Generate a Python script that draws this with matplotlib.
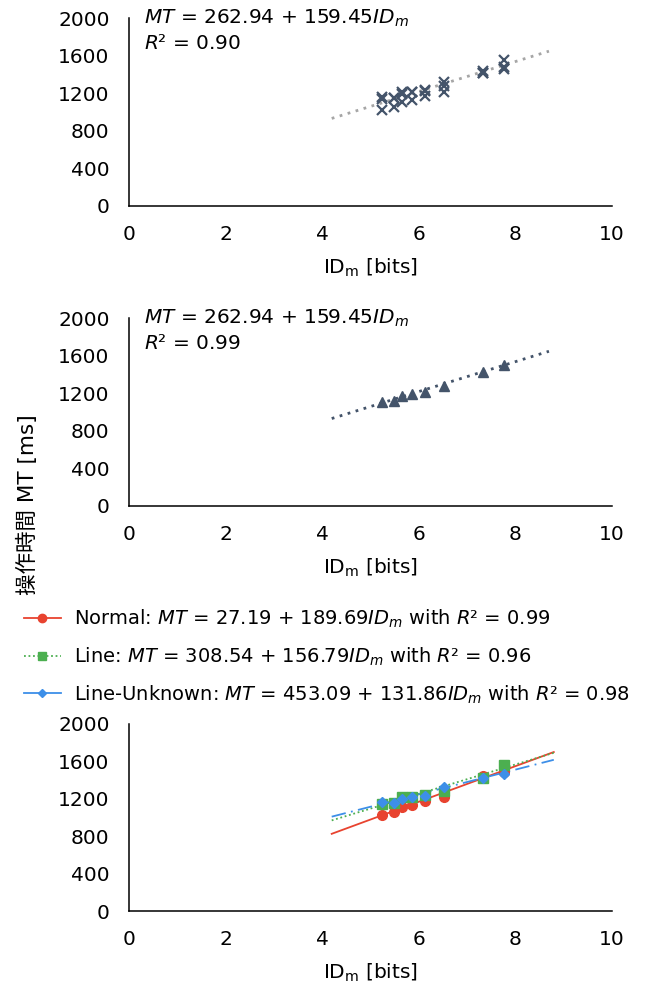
import matplotlib
matplotlib.use("Agg")
import matplotlib.pyplot as plt
from matplotlib.lines import Line2D
import numpy as np

plt.rcParams["font.family"] = ["DejaVu Sans", "Noto Sans CJK JP"]
plt.rcParams["mathtext.fontset"] = "dejavusans"

# index of difficulty per condition [bits]
id_m = [5.25, 5.48, 5.66, 5.87, 6.13, 6.53, 7.33, 7.76]

# movement time per condition [ms]
mt_normal = [1024, 1059, 1106, 1127, 1170, 1213, 1440, 1485]
mt_line = [1138, 1149, 1219, 1219, 1237, 1283, 1415, 1560]
mt_unknown = [1166, 1150, 1195, 1219, 1230, 1326, 1420, 1465]
mt_mean = [1105, 1120, 1175, 1195, 1215, 1280, 1425, 1505]

# regression coefficients (intercept, slope) as printed in the figure
fit_all = (262.94, 159.45)
fit_normal = (27.19, 189.69)
fit_line = (308.54, 156.79)
fit_unknown = (453.09, 131.86)
fit_range = (4.2, 8.7)
fit_range_cond = (4.2, 8.8)

yticks = [0, 400, 800, 1200, 1600, 2000]
xticks = [0, 2, 4, 6, 8, 10]

NAVY = "#44546a"
GREY = "#a6a6a6"
RED = "#e8432f"
GREEN = "#4caf50"
BLUE = "#3d8fe8"
FS = 14.5

fig = plt.figure(figsize=(6.48, 9.83), dpi=100)


def style_axes(ax):
    ax.set_xlim(0, 10)
    ax.set_ylim(0, 2000)
    ax.set_xticks(xticks)
    ax.set_yticks(yticks)
    ax.tick_params(length=0, labelsize=FS, pad=14)
    for s in ["top", "right"]:
        ax.spines[s].set_visible(False)
    for s in ["left", "bottom"]:
        ax.spines[s].set_linewidth(1.1)
    ax.set_xlabel(r"ID$_\mathrm{m}$ [bits]", fontsize=FS, labelpad=9)


def fit_line_pts(coef, rng):
    xs = np.array(rng)
    return xs, coef[0] + coef[1] * xs


def equation(ax, coef, r2):
    ax.text(0.031, 1.0, r"$MT$ = %.2f + %.2f$ID_m$" % coef,
            transform=ax.transAxes, fontsize=FS, va="center", ha="left")
    ax.text(0.031, 0.868, r"$R$² = %.2f" % r2,
            transform=ax.transAxes, fontsize=FS, va="center", ha="left")


# top: all trials
ax1 = fig.add_axes([0.199, 0.7906, 0.745, 0.1907])
style_axes(ax1)
xs, ys = fit_line_pts(fit_all, fit_range)
ax1.plot(xs, ys, ls=(0, (1, 2)), color=GREY, lw=2)
for mt in [mt_normal, mt_line, mt_unknown]:
    ax1.plot(id_m, mt, ls="none", marker="x", ms=7, mew=1.6, color=NAVY)
equation(ax1, fit_all, 0.90)

# middle: means
ax2 = fig.add_axes([0.199, 0.4853, 0.745, 0.1907])
style_axes(ax2)
xs, ys = fit_line_pts(fit_all, fit_range)
ax2.plot(xs, ys, ls=(0, (1, 2)), color=NAVY, lw=2)
ax2.plot(id_m, mt_mean, ls="none", marker="^", ms=7, color=NAVY)
equation(ax2, fit_all, 0.99)

# bottom: per condition
ax3 = fig.add_axes([0.199, 0.0732, 0.745, 0.1907])
style_axes(ax3)
conds = [
    (mt_normal, fit_normal, RED, "o", "-", 7),
    (mt_line, fit_line, GREEN, "s", (0, (1, 1.5)), 7),
    (mt_unknown, fit_unknown, BLUE, "D", (0, (8, 3, 1, 3)), 5.5),
]
for mt, coef, c, m, ls, ms in conds:
    xs, ys = fit_line_pts(coef, fit_range_cond)
    ax3.plot(xs, ys, ls=ls, color=c, lw=1.3)
for mt, coef, c, m, ls, ms in conds:
    ax3.plot(id_m, mt, ls="none", marker=m, ms=ms, color=c)

handles = [
    Line2D([], [], color=RED, ls="-", marker="o", ms=6, lw=1.3),
    Line2D([], [], color=GREEN, ls=(0, (1, 1.5)), marker="s", ms=6, lw=1.3),
    Line2D([], [], color=BLUE, ls="-", marker="D", ms=4.5, lw=1.3),
]
labels = [
    r"Normal: $MT$ = 27.19 + 189.69$ID_m$ with $R$² = 0.99",
    r"Line: $MT$ = 308.54 + 156.79$ID_m$ with $R$² = 0.96",
    r"Line-Unknown: $MT$ = 453.09 + 131.86$ID_m$ with $R$² = 0.98",
]
fig.legend(handles, labels, loc="upper left", bbox_to_anchor=(0.037, 0.382),
           frameon=False, fontsize=14, handlelength=1.9, handletextpad=0.67,
           labelspacing=0.8, borderaxespad=0, borderpad=0)

fig.text(0.043, 0.487, "操作時間 MT [ms]", rotation=90, fontsize=15.5,
         ha="center", va="center")

fig.savefig("out.png", dpi=100)
